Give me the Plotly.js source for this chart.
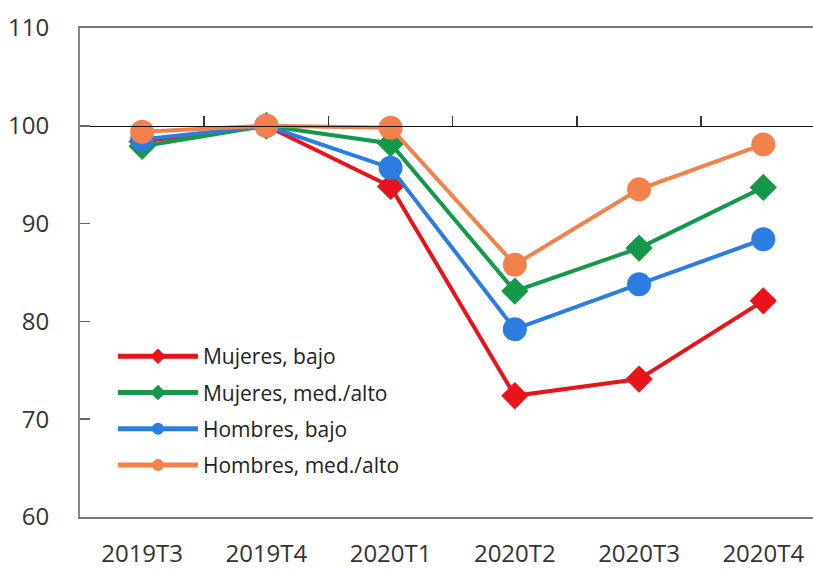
<!DOCTYPE html>
<html>
<head>
<meta charset="utf-8">
<script src="https://cdn.plot.ly/plotly-3.0.1.min.js"></script>
<style>html,body{margin:0;padding:0;background:#fff;}#chart{width:813px;height:569px;}</style>
</head>
<body>
<div id="chart"></div>
<script>
const categories = ['2019T3', '2019T4', '2020T1', '2020T2', '2020T3', '2020T4'];
const seriesNames = ['Mujeres, bajo', 'Mujeres, med./alto', 'Hombres, bajo', 'Hombres, med./alto'];
const mujeresBajo = [98.4, 100, 93.8, 72.4, 74.1, 82.1];
const mujeresMedAlto = [97.9, 100, 98.2, 83.1, 87.5, 93.7];
const hombresBajo = [98.6, 100, 95.7, 79.2, 83.8, 88.4];
const hombresMedAlto = [99.4, 100, 99.8, 85.8, 93.5, 98.1];
const boundaryTicks = [0.5, 1.5, 2.5, 3.5, 4.5];
const yTicks = [60, 70, 80, 90, 100, 110];

const seriesValues = [mujeresBajo, mujeresMedAlto, hombresBajo, hombresMedAlto];
const colors = ['#e8131b', '#14994a', '#2b7de0', '#f2814c'];
const symbols = ['diamond', 'diamond', 'circle', 'circle'];
const sizes = [21, 21, 24, 24];

const traces = seriesValues.map((vals, i) => ({
  type: 'scatter',
  mode: 'lines+markers',
  name: seriesNames[i],
  legendgroup: 'g' + i,
  x: categories,
  y: vals,
  line: {color: colors[i], width: 4},
  marker: {color: colors[i], symbol: symbols[i], size: sizes[i]},
  hoverinfo: 'x+y+name'
}));

// dummy trace carrying the reference axis drawn at y = 100
traces.unshift({
  type: 'scatter', mode: 'lines', x: [], y: [], xaxis: 'x2', yaxis: 'y',
  showlegend: false, hoverinfo: 'skip'
});

const font = {family: 'Open Sans, sans-serif', color: '#333'};

const layout = {
  width: 813,
  height: 569,
  margin: {l: 80, r: 0, t: 28, b: 52},
  paper_bgcolor: '#fff',
  plot_bgcolor: '#fff',
  font: font,
  showlegend: true,
  legend: {
    x: 0.045, y: 0.37, xanchor: 'left', yanchor: 'top',
    font: {family: 'Open Sans, sans-serif', size: 21, color: '#222'},
    bgcolor: 'rgba(0,0,0,0)',
    itemsizing: 'constant',
    itemwidth: 80,
    tracegroupgap: 6
  },
  xaxis: {
    type: 'category',
    range: [-0.5, 5.4],
    showgrid: false,
    zeroline: false,
    showline: true,
    linecolor: '#777',
    linewidth: 2,
    mirror: true,
    ticks: '',
    ticklabelstandoff: 14,
    tickfont: {family: 'Open Sans, sans-serif', size: 24, color: '#333'}
  },
  xaxis2: {
    type: 'linear',
    overlaying: 'x',
    anchor: 'free',
    position: 0.8,
    side: 'top',
    range: [-0.5, 5.4],
    showgrid: false,
    zeroline: false,
    showline: true,
    linecolor: '#111',
    linewidth: 1.5,
    ticks: 'outside',
    ticklen: 10,
    tickwidth: 1.5,
    tickcolor: '#333',
    tickmode: 'array',
    tickvals: boundaryTicks,
    showticklabels: false
  },
  yaxis: {
    range: [60, 110],
    tickmode: 'array',
    tickvals: yTicks,
    showgrid: false,
    zeroline: false,
    showline: true,
    linecolor: '#888',
    linewidth: 2,
    mirror: true,
    ticks: 'inside',
    ticklen: 10,
    tickwidth: 1.5,
    tickcolor: '#666',
    ticklabelstandoff: 24,
    tickfont: {family: 'Open Sans, sans-serif', size: 24, color: '#333'}
  }
};

Plotly.newPlot('chart', traces, layout, {displayModeBar: false, staticPlot: true});
</script>
</body>
</html>
